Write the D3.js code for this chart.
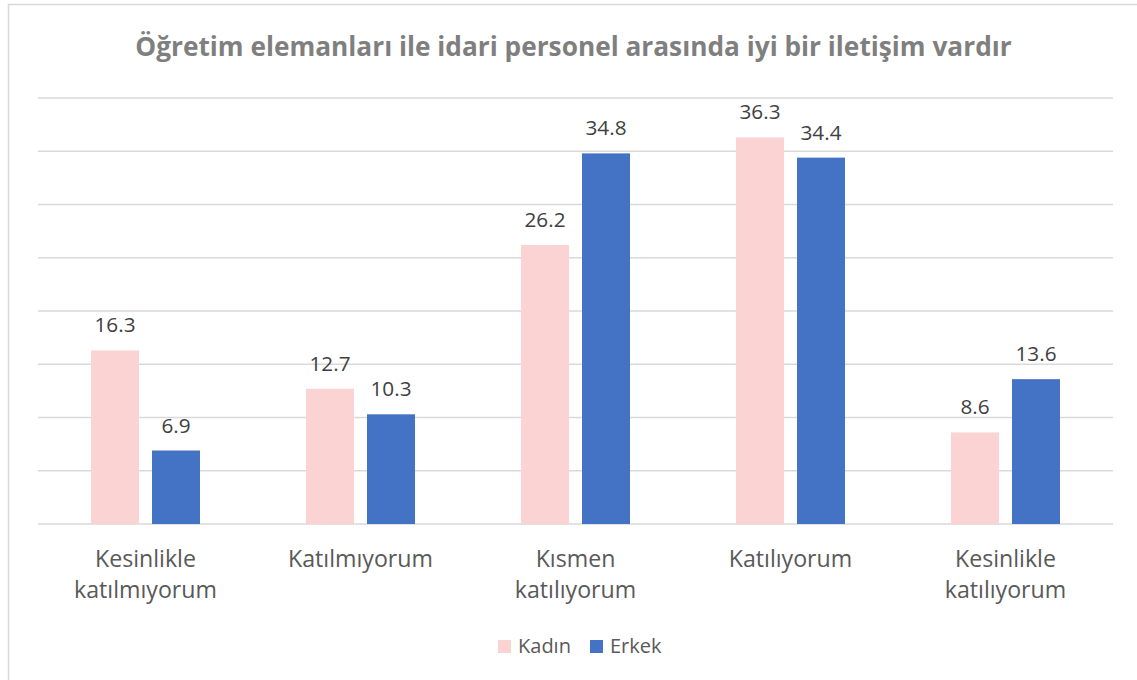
<!DOCTYPE html>
<html>
<head>
<meta charset="utf-8">
<script src="https://cdn.jsdelivr.net/npm/d3@7"></script>
<style>
  html, body { margin: 0; padding: 0; background: #fff; }
  svg { display: block; font-family: "Open Sans", Lato, sans-serif; }
</style>
</head>
<body>
<svg id="chart" width="1137" height="680"></svg>
<script>
const title = "Öğretim elemanları ile idari personel arasında iyi bir iletişim vardır";
const categories = [
  ["Kesinlikle", "katılmıyorum"],
  ["Katılmıyorum"],
  ["Kısmen", "katılıyorum"],
  ["Katılıyorum"],
  ["Kesinlikle", "katılıyorum"]
];
const seriesNames = ["Kadın", "Erkek"];
const kadin = [16.3, 12.7, 26.2, 36.3, 8.6];
const erkek = [6.9, 10.3, 34.8, 34.4, 13.6];
const gridTicks = [0, 5, 10, 15, 20, 25, 30, 35, 40];
const colors = ["#FBD3D3", "#4472C4"];

const svg = d3.select("#chart");
const W = 1137, H = 680;
const plot = { left: 38, right: 1113, top: 98, bottom: 524 };

// Pick a font size so that a sample string spans the wanted width.
function fitSize(sample, width, weight) {
  const t = svg.append("text").attr("font-size", 20)
    .attr("font-weight", weight || "normal").text(sample);
  const w = t.node().getComputedTextLength();
  t.remove();
  return 20 * width / w;
}
const titleSize = fitSize(title, 877, "bold");
const catSize = fitSize("Katılmıyorum", 145);
const valueSize = fitSize("16.3", 41);
const legendSize = fitSize("Kadın", 53);

// outer chart frame (extends past the right and bottom edges)
svg.append("rect")
  .attr("x", 8.5).attr("y", 4.5)
  .attr("width", W + 10).attr("height", H + 10)
  .attr("fill", "#fff").attr("stroke", "#D9D9D9").attr("stroke-width", 1.5);

const x0 = d3.scaleBand().domain(d3.range(categories.length))
  .range([plot.left, plot.right]).paddingInner(0).paddingOuter(0);
const y = d3.scaleLinear().domain([0, 40]).range([plot.bottom, plot.top]);

// horizontal gridlines
svg.append("g").selectAll("line").data(gridTicks).join("line")
  .attr("x1", plot.left).attr("x2", plot.right)
  .attr("y1", d => y(d)).attr("y2", d => y(d))
  .attr("stroke", "#D9D9D9").attr("stroke-width", 1.3);

// bars: two per category, 48px wide with a 13px gap
const barW = 48, gap = 13;
const x1 = d3.scaleOrdinal().domain([0, 1]).range([-(gap / 2 + barW), gap / 2]);
const rows = categories.map((c, i) => [kadin[i], erkek[i]]);

const groups = svg.append("g").selectAll("g").data(rows).join("g")
  .attr("transform", (d, i) => `translate(${x0(i) + x0.bandwidth() / 2},0)`);

groups.selectAll("rect").data(d => d).join("rect")
  .attr("x", (d, j) => x1(j))
  .attr("y", d => y(d))
  .attr("width", barW)
  .attr("height", d => y(0) - y(d))
  .attr("fill", (d, j) => colors[j]);

groups.selectAll("text").data(d => d).join("text")
  .attr("x", (d, j) => x1(j) + barW / 2)
  .attr("y", d => y(d) - 18)
  .attr("text-anchor", "middle")
  .attr("font-size", valueSize)
  .attr("fill", "#404040")
  .text(d => d.toFixed(1));

// category labels
const catG = svg.append("g").selectAll("text").data(categories).join("text")
  .attr("x", (d, i) => x0(i) + x0.bandwidth() / 2)
  .attr("y", 567)
  .attr("text-anchor", "middle")
  .attr("font-size", catSize)
  .attr("fill", "#595959");
catG.selectAll("tspan").data(d => d).join("tspan")
  .attr("x", function () { return d3.select(this.parentNode).attr("x"); })
  .attr("dy", (d, k) => k === 0 ? 0 : 31)
  .text(d => d);

// title
svg.append("text")
  .attr("x", 573.5).attr("y", 56)
  .attr("text-anchor", "middle")
  .attr("font-size", titleSize).attr("font-weight", "bold")
  .attr("fill", "#7F7F7F")
  .text(title);

// legend
const legendX = [498, 590];
const leg = svg.append("g").selectAll("g").data(seriesNames).join("g")
  .attr("transform", (d, i) => `translate(${legendX[i]},640)`);
leg.append("rect").attr("width", 13).attr("height", 13).attr("fill", (d, i) => colors[i]);
leg.append("text").attr("x", 20).attr("y", 13).attr("font-size", legendSize)
  .attr("fill", "#595959").text(d => d);
</script>
</body>
</html>
